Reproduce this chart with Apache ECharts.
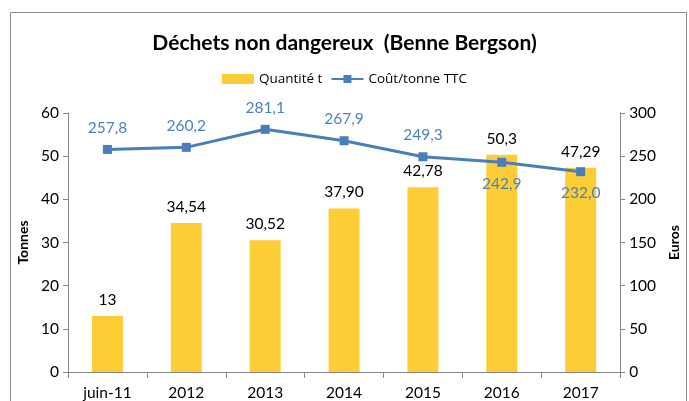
<!DOCTYPE html>
<html>
<head>
<meta charset="utf-8">
<script src="https://cdn.jsdelivr.net/npm/echarts@6/dist/echarts.min.js"></script>
<style>
html, body { margin: 0; padding: 0; background: #fff; }
#chart { width: 689px; height: 401px; }
</style>
</head>
<body>
<div id="chart"></div>
<script>
const categories = ['juin-11', '2012', '2013', '2014', '2015', '2016', '2017'];
const quantite = [13, 34.54, 30.52, 37.90, 42.78, 50.3, 47.29];
const quantiteLabels = ['13', '34,54', '30,52', '37,90', '42,78', '50,3', '47,29'];
const cout = [257.8, 260.2, 281.1, 267.9, 249.3, 242.9, 232.0];
const coutLabelBelow = [false, false, false, false, false, true, true];

const FONT = 'Lato';
const chart = echarts.init(document.getElementById('chart'));

const option = {
    animation: false,
    textStyle: { fontFamily: FONT },
    graphic: [{
        type: 'rect',
        shape: { x: 10.5, y: 12.5, width: 676, height: 400 },
        style: { fill: 'none', stroke: '#8c8c8c', lineWidth: 1 }
    }],
    title: {
        text: 'Déchets non dangereux  (Benne Bergson)',
        left: 'center',
        top: 28,
        textStyle: { fontFamily: FONT, fontSize: 21, fontWeight: 'bold', color: '#000' }
    },
    legend: {
        top: 67,
        left: 'center',
        itemGap: 8,
        itemWidth: 32,
        itemHeight: 10,
        textStyle: { fontFamily: 'Open Sans', fontSize: 13.5, color: '#000' },
        data: [
            { name: 'Quantité t', icon: 'rect' },
            { name: 'Coût/tonne TTC' }
        ]
    },
    grid: { left: 68, right: 66, top: 113, bottom: 29 },
    xAxis: {
        type: 'category',
        data: categories,
        axisLine: { lineStyle: { color: '#868686' } },
        axisTick: { show: true, length: 6, lineStyle: { color: '#868686' } },
        axisLabel: { fontSize: 15.5, color: '#000', margin: 13 }
    },
    yAxis: [{
        type: 'value',
        min: 0, max: 60, interval: 10,
        name: 'Tonnes',
        nameLocation: 'middle',
        nameGap: 32,
        nameRotate: 90,
        nameTextStyle: { fontWeight: 'bold', fontSize: 14, color: '#000' },
        axisLine: { show: true, lineStyle: { color: '#868686' } },
        axisTick: { show: true, length: 5, lineStyle: { color: '#868686' } },
        axisLabel: { fontSize: 15.5, color: '#000', margin: 9 },
        splitLine: { show: false }
    }, {
        type: 'value',
        min: 0, max: 300, interval: 50,
        name: 'Euros',
        nameLocation: 'middle',
        nameGap: 42,
        nameRotate: 90,
        nameTextStyle: { fontWeight: 'bold', fontSize: 14, color: '#000' },
        axisLine: { show: true, lineStyle: { color: '#868686' } },
        axisTick: { show: true, length: 5, lineStyle: { color: '#868686' } },
        axisLabel: { fontSize: 15.5, color: '#000', margin: 9 },
        splitLine: { show: false }
    }],
    series: [{
        name: 'Quantité t',
        type: 'bar',
        yAxisIndex: 0,
        barWidth: 31,
        data: quantite,
        itemStyle: { color: '#FDCD35' },
        label: {
            show: true,
            position: 'top',
            distance: 8,
            fontSize: 15.5,
            color: '#000',
            formatter: p => quantiteLabels[p.dataIndex]
        }
    }, {
        name: 'Coût/tonne TTC',
        type: 'line',
        yAxisIndex: 1,
        symbol: 'rect',
        symbolSize: 9,
        data: cout.map((v, i) => ({
            value: v,
            label: { position: coutLabelBelow[i] ? 'bottom' : 'top' }
        })),
        lineStyle: { color: '#4A7EBB', width: 3 },
        itemStyle: { color: '#4A7EBB' },
        label: {
            show: true,
            distance: 9,
            fontSize: 15.5,
            color: '#4F81BD',
            formatter: p => p.value.toFixed(1).replace('.', ',')
        }
    }]
};

chart.setOption(option);
</script>
</body>
</html>
